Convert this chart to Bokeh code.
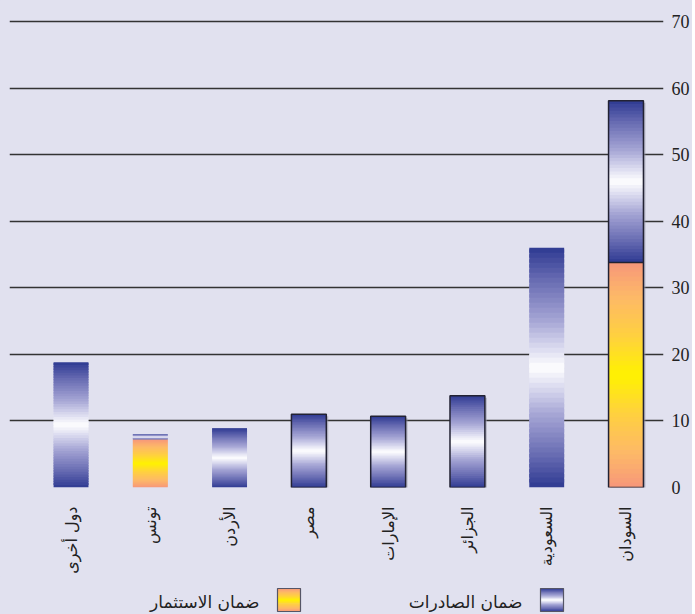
import math
from bokeh.plotting import figure
from bokeh.layouts import column
from bokeh.models import FixedTicker, Range1d
from bokeh.core.properties import value
from bokeh.embed import file_html
from bokeh.resources import INLINE

# ---------------- data ----------------
categories = ["دول أخرى", "تونس", "الأردن", "مصر", "الإمارات", "الجزائر", "السعودية", "السودان"]
investment = [0, 7.2, 0, 0, 0, 0, 0, 33.8]      # ضمان الاستثمار
exports = [18.8, 0.8, 8.9, 11.0, 10.7, 13.8, 36.0, 24.3]  # ضمان الصادرات
series_names = ["ضمان الصادرات", "ضمان الاستثمار"]
y_ticks = [0, 10, 20, 30, 40, 50, 60, 70]
bordered = {"مصر", "الإمارات", "الجزائر", "السودان"}

# ---------------- style ----------------
BG = "#E1E1EF"
BLUE_STOPS = [(0.0, "#FFFFFF"), (0.12, "#E4E4F4"), (0.4, "#A4A4D4"), (0.75, "#6468B0"), (1.0, "#2E3A92")]
ORANGE_STOPS = [(0.0, "#FFF200"), (0.35, "#FFD040"), (0.7, "#FDB868"), (1.0, "#F7977A")]


def hex2rgb(h):
    h = h.lstrip("#")
    return tuple(int(h[i:i + 2], 16) for i in (0, 2, 4))


def grad(stops, d):
    for (p0, c0), (p1, c1) in zip(stops[:-1], stops[1:]):
        if p0 <= d <= p1:
            f = (d - p0) / (p1 - p0) if p1 > p0 else 0
            a, b = hex2rgb(c0), hex2rgb(c1)
            return "#%02x%02x%02x" % tuple(round(a[k] + (b[k] - a[k]) * f) for k in range(3))
    return stops[-1][1]


def gradient_slices(x0, x1, y0, y1, stops, n, out):
    h = (y1 - y0) / n
    for i in range(n):
        t = (i + 0.5) / n
        d = abs(t - 0.5) * 2
        out["left"].append(x0)
        out["right"].append(x1)
        out["bottom"].append(y0 + i * h)
        out["top"].append(min(y0 + (i + 1.7) * h, y1))
        out["color"].append(grad(stops, d))


BAR_W = 0.44
N = 48
FRAME_L, FRAME_W = 9, 654

p = figure(
    frame_width=FRAME_W, frame_height=479,
    x_range=Range1d(-0.776, 7.473), y_range=Range1d(0, 71.95),
    y_axis_location="right",
    output_backend="svg", toolbar_location=None,
    background_fill_color=BG, border_fill_color=BG,
    min_border_left=FRAME_L, min_border_right=4, min_border_top=8, min_border_bottom=4,
)
p.outline_line_color = None
p.xgrid.visible = False
p.ygrid.ticker = FixedTicker(ticks=y_ticks)
p.ygrid.grid_line_color = "#333333"
p.ygrid.grid_line_width = 1.7

slices = {"left": [], "right": [], "bottom": [], "top": [], "color": []}
outlines = {"left": [], "right": [], "bottom": [], "top": []}
for i, cat in enumerate(categories):
    x0, x1 = i - BAR_W / 2, i + BAR_W / 2
    base = 0
    if investment[i] > 0:
        gradient_slices(x0, x1, 0, investment[i], ORANGE_STOPS, N, slices)
        base = investment[i]
    if exports[i] > 0:
        gradient_slices(x0, x1, base, base + exports[i], BLUE_STOPS, N, slices)
    if cat in bordered:
        outlines["left"].append(x0)
        outlines["right"].append(x1)
        outlines["bottom"].append(0)
        outlines["top"].append(investment[i] + exports[i])

# soft shadow behind bordered bars
p.quad(left=[l + 0.025 for l in outlines["left"]], right=[r + 0.025 for r in outlines["right"]],
       bottom=[-0.3] * len(outlines["left"]), top=[t - 0.3 for t in outlines["top"]],
       fill_color="#9a9aa8", fill_alpha=0.6, line_color=None)
p.quad(left="left", right="right", bottom="bottom", top="top", fill_color="color",
       line_color=None, source=slices)
p.quad(left=outlines["left"], right=outlines["right"], bottom=outlines["bottom"], top=outlines["top"],
       fill_color=None, line_color="#222233", line_width=1.5)
if investment[7] > 0:
    p.segment(x0=[7 - BAR_W / 2], x1=[7 + BAR_W / 2], y0=[investment[7]], y1=[investment[7]],
              line_color="#222233", line_width=1.5)

# right y axis
p.yaxis.ticker = FixedTicker(ticks=y_ticks)
p.yaxis.axis_line_color = None
p.yaxis.major_tick_line_color = None
p.yaxis.minor_tick_line_color = None
p.yaxis.major_label_standoff = 2
p.yaxis.major_label_text_font = "Liberation Serif"
p.yaxis.major_label_text_font_size = "18px"
p.yaxis.major_label_text_color = "#222222"

# x axis with category labels
p.xaxis.ticker = FixedTicker(ticks=list(range(len(categories))))
p.xaxis.major_label_overrides = {i: c for i, c in enumerate(categories)}
p.xaxis.major_label_orientation = math.pi / 2
p.xaxis.axis_line_color = None
p.xaxis.major_tick_line_color = None
p.xaxis.minor_tick_line_color = None
p.xaxis.major_label_standoff = 13
p.xaxis.major_label_text_font = "DejaVu Sans"
p.xaxis.major_label_text_font_size = "16px"
p.xaxis.major_label_text_color = "#222222"

# ---------------- legend (separate strip, x in page pixels) ----------------
LH = 38
leg = figure(frame_width=FRAME_W, frame_height=LH,
             x_range=Range1d(FRAME_L, FRAME_L + FRAME_W), y_range=Range1d(0, LH),
             output_backend="svg", toolbar_location=None,
             background_fill_color=BG, border_fill_color=BG,
             min_border_left=FRAME_L, min_border_right=4, min_border_top=0, min_border_bottom=0,
             outline_line_color=None)
leg.axis.visible = False
leg.grid.visible = False

sw_x = [540, 277]
sw_stops = [BLUE_STOPS, ORANGE_STOPS]
ls = {"left": [], "right": [], "bottom": [], "top": [], "color": []}
for k in range(2):
    gradient_slices(sw_x[k], sw_x[k] + 23, 3, 26, sw_stops[k], 24, ls)
leg.quad(left="left", right="right", bottom="bottom", top="top", fill_color="color",
         line_color=None, source=ls)
leg.quad(left=sw_x, right=[x + 23 for x in sw_x], bottom=[3, 3], top=[26, 26],
         fill_color=None, line_color="#555566", line_width=1.2)
leg.text(x=[x - 18 for x in sw_x], y=[13, 13], text=series_names,
         text_align="right", text_baseline="middle",
         text_font=value("DejaVu Sans"), text_font_size="17px", text_color="#222222")

layout = column(p, leg, spacing=0)
layout.styles = {"background-color": BG}

open("out.html", "w").write(file_html(layout, INLINE))
